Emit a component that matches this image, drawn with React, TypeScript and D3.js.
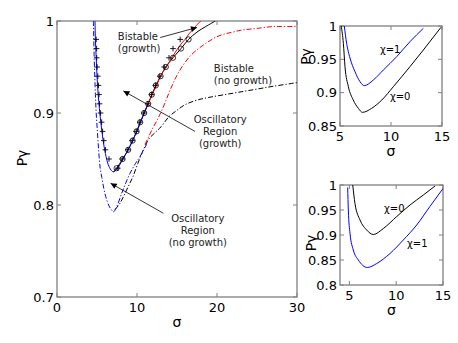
import React from 'react'
import * as d3 from 'd3'

const W = 458
const H = 343
const FONT = 'DejaVu Sans'
const FRAME = '#808080'
const BLUE = '#0000ff'
const RED = '#ff0000'

// ---- main panel: stability regions in (sigma, P_gamma) ----
const mainSigmaTicks = [0, 10, 20, 30]
const mainPTicks = [0.7, 0.8, 0.9, 1]

// solid blue: oscillatory boundary (growth)
const blueSolidSigma = [4.75, 4.8, 4.9, 5.0, 5.15, 5.3, 5.5, 5.75, 6.05, 6.4, 6.75, 7.05, 7.5, 8.0, 8.5, 9.0, 9.5, 10.0, 10.45, 10.9, 11.4]
const blueSolidP = [1.0, 0.98, 0.96, 0.94, 0.92, 0.905, 0.888, 0.871, 0.856, 0.844, 0.838, 0.836, 0.839, 0.846, 0.854, 0.862, 0.871, 0.88, 0.89, 0.9, 0.91]

// solid black: bistable boundary (growth)
const blackSolidSigma = [7.05, 7.45, 8.2, 8.9, 9.45, 9.95, 10.4, 10.9, 11.4, 11.85, 12.35, 12.95, 13.6, 14.5, 15.5, 16.45, 17.5, 18.6, 19.8]
const blackSolidP = [0.836, 0.84, 0.85, 0.86, 0.87, 0.88, 0.89, 0.9, 0.91, 0.92, 0.93, 0.94, 0.95, 0.96, 0.97, 0.98, 0.988, 0.994, 1.0]

// solid red: second bistable branch (growth)
const redSolidSigma = [11.0, 11.5, 12.0, 12.5, 13.0, 13.5, 14.0, 14.5, 15.0, 15.5, 16.0, 16.5, 17.0, 17.5, 18.0]
const redSolidP = [0.903, 0.912, 0.922, 0.931, 0.941, 0.948, 0.955, 0.962, 0.969, 0.975, 0.98, 0.986, 0.991, 0.996, 1.0]

// dash-dot blue: oscillatory boundary (no growth)
const blueDashSigma = [4.55, 4.65, 4.8, 4.9, 5.05, 5.2, 5.4, 5.6, 5.85, 6.1, 6.5, 6.8, 7.05, 7.45, 8.1, 8.6, 9.1, 9.8, 10.4, 11.2]
const blueDashP = [1.0, 0.96, 0.92, 0.9, 0.88, 0.86, 0.84, 0.83, 0.818, 0.809, 0.799, 0.795, 0.7925, 0.798, 0.813, 0.824, 0.834, 0.845, 0.853, 0.866]

// dash-dot black: bistable boundary (no growth)
const blackDashSigma = [7.25, 7.8, 8.3, 8.9, 9.5, 10.1, 10.8, 11.5, 12.3, 13.0, 14.0, 15.0, 16.0, 17.5, 19.0, 21.0, 23.0, 25.0, 27.0, 30.0]
const blackDashP = [0.795, 0.801, 0.809, 0.82, 0.831, 0.845, 0.86, 0.872, 0.879, 0.885, 0.896, 0.903, 0.909, 0.914, 0.917, 0.92, 0.923, 0.926, 0.929, 0.933]

// dash-dot red: second bistable branch (no growth)
const redDashSigma = [11.0, 11.5, 12.0, 12.5, 13.0, 13.5, 14.0, 14.5, 15.0, 16.0, 17.0, 18.0, 19.0, 20.0, 21.0, 22.0, 23.0, 24.0, 25.0, 26.0, 27.0, 28.0, 30.0]
const redDashP = [0.866, 0.875, 0.884, 0.892, 0.901, 0.911, 0.922, 0.932, 0.941, 0.955, 0.965, 0.972, 0.978, 0.983, 0.986, 0.988, 0.99, 0.991, 0.992, 0.993, 0.994, 0.994, 0.994]

// simulation markers
const circleSigma = [7.45, 8.2, 8.9, 9.45, 9.95, 10.4, 10.9, 11.4, 11.85, 12.35, 12.95, 13.6, 14.5, 15.5, 16.45]
const circleP = [0.84, 0.85, 0.86, 0.87, 0.88, 0.89, 0.9, 0.91, 0.92, 0.93, 0.94, 0.95, 0.96, 0.97, 0.98]
const plusLeftSigma = [4.9, 4.95, 4.97, 5.02, 5.1, 5.18, 5.25, 5.32, 5.45, 5.58, 5.7, 5.85, 6.05, 6.5]
const plusLeftP = [0.98, 0.97, 0.96, 0.95, 0.94, 0.93, 0.92, 0.91, 0.9, 0.89, 0.88, 0.87, 0.86, 0.85]
const plusRightSigma = [7.6, 8.15, 8.85, 9.4, 9.9, 10.35, 10.85, 11.35, 11.8, 12.3, 12.85, 13.4, 14.0, 14.5, 15.4]
const plusRightP = [0.84, 0.85, 0.86, 0.87, 0.88, 0.89, 0.9, 0.91, 0.92, 0.93, 0.94, 0.95, 0.96, 0.97, 0.98]

// annotations (data coords)
const notes = [
  { lines: ['Bistable', '(growth)'], sigma: 7.6, p: 0.979, anchor: 'start', from: [12.9, 0.982], to: [17.5, 0.993] },
  { lines: ['Bistable', '(no growth)'], sigma: 19.6, p: 0.945, anchor: 'start', from: null, to: null },
  { lines: ['Oscillatory', 'Region', '(growth)'], sigma: 20.4, p: 0.889, anchor: 'middle', from: [17.25, 0.88], to: [8.3, 0.924] },
  { lines: ['Oscillatory', 'Region', '(no growth)'], sigma: 17.6, p: 0.781, anchor: 'middle', from: [13.3, 0.791], to: [6.7, 0.8236] }
]

// ---- top inset ----
const topSigmaTicks = [5, 10, 15]
const topPTicks = [0.85, 0.9, 0.95, 1]
const topChi1Sigma = [5.42, 5.65, 5.98, 6.47, 6.96, 7.38, 8.27, 9.25, 10.56, 11.86, 13.17]
const topChi1P = [1.0, 0.974, 0.952, 0.9315, 0.9165, 0.9105, 0.919, 0.934, 0.954, 0.9765, 0.9965]
const topChi0Sigma = [5.12, 5.33, 5.49, 5.82, 6.3, 6.8, 7.2, 8.1, 9.1, 10.23, 11.86, 13.17, 14.9]
const topChi0P = [1.0, 0.974, 0.939, 0.909, 0.889, 0.8765, 0.8705, 0.8765, 0.889, 0.909, 0.939, 0.964, 0.998]

// ---- bottom inset ----
const botSigmaTicks = [5, 10, 15]
const botPTicks = [0.8, 0.85, 0.9, 0.95, 1]
const botChi0Sigma = [5.36, 5.6, 6.14, 6.85, 7.56, 8.63, 10.06, 11.48, 12.9, 14.15]
const botChi0P = [1.0, 0.963, 0.93, 0.91, 0.901, 0.913, 0.937, 0.96, 0.98, 0.998]
const botChi1Sigma = [4.82, 4.89, 5.07, 5.42, 5.96, 6.92, 7.92, 9.34, 10.76, 12.19, 13.6, 15.0]
const botChi1P = [0.995, 0.95, 0.903, 0.87, 0.85, 0.835, 0.843, 0.863, 0.89, 0.92, 0.957, 0.993]

type Scale = d3.ScaleLinear<number, number>

const path = (sx: Scale, sy: Scale, xs: number[], ys: number[], curve: d3.CurveFactory = d3.curveCatmullRom) =>
  d3.line<[number, number]>().x(d => sx(d[0])).y(d => sy(d[1])).curve(curve)(d3.zip(xs, ys) as [number, number][]) || ''

const Frame = ({ id, sx, sy, xTicks, yTicks, yLabel }: {
  id: string, sx: Scale, sy: Scale, xTicks: number[], yTicks: number[], yLabel: [number, number]
}) => {
  const [x0, x1] = sx.range()
  const [y0, y1] = sy.range()
  const t = 4
  return (
    <g>
      <clipPath id={id}><rect x={x0} y={y1} width={x1 - x0} height={y0 - y1} /></clipPath>
      {xTicks.map(v => (
        <g key={'x' + v}>
          <line x1={sx(v)} x2={sx(v)} y1={y0} y2={y0 - t} stroke={FRAME} />
          <line x1={sx(v)} x2={sx(v)} y1={y1} y2={y1 + t} stroke={FRAME} />
          <text x={sx(v)} y={y0 + 15} textAnchor="middle" fontSize={13}>{String(v)}</text>
        </g>
      ))}
      {yTicks.map(v => (
        <g key={'y' + v}>
          <line x1={x0} x2={x0 + t} y1={sy(v)} y2={sy(v)} stroke={FRAME} />
          <line x1={x1} x2={x1 - t} y1={sy(v)} y2={sy(v)} stroke={FRAME} />
          <text x={x0 - 3} y={sy(v)} dy="0.36em" textAnchor="end" fontSize={13}>{String(v)}</text>
        </g>
      ))}
      <rect x={x0} y={y1} width={x1 - x0} height={y0 - y1} fill="none" stroke={FRAME} strokeWidth={1.3} />
      <text x={(x0 + x1) / 2} y={y0 + 30} textAnchor="middle" fontSize={14}>σ</text>
      <text transform={`translate(${yLabel[0]},${yLabel[1]}) rotate(-90)`} dy="0.36em" textAnchor="middle" fontSize={14}>Pγ</text>
    </g>
  )
}

const Plus = ({ x, y }: { x: number, y: number }) => (
  <path d={`M${x - 2.8},${y}H${x + 2.8}M${x},${y - 2.8}V${y + 2.8}`} stroke="#000" strokeWidth={0.9} />
)

export default function App() {
  // main
  const mx = d3.scaleLinear().domain([0, 30]).range([57, 297])
  const my = d3.scaleLinear().domain([0.7, 1]).range([297, 21])
  // insets
  const tx = d3.scaleLinear().domain([5, 15]).range([340, 442])
  const ty = d3.scaleLinear().domain([0.85, 1]).range([126, 26])
  const bx = d3.scaleLinear().domain([4, 15]).range([340, 443])
  const by = d3.scaleLinear().domain([0.8, 1]).range([285, 185])

  const dash = '5,2,1.2,2'

  return (
    <svg width={W} height={H} style={{ position: 'absolute', left: 0, top: 0, background: '#fff' }}
      fontFamily={FONT} fill="#000">
      <defs>
        <marker id="ah" viewBox="0 0 10 10" refX="10" refY="5" markerWidth="7" markerHeight="6"
          markerUnits="userSpaceOnUse" orient="auto">
          <path d="M0,0L10,5L0,10Z" fill="#000" />
        </marker>
      </defs>

      {/* main panel */}
      <Frame id="cm" sx={mx} sy={my} xTicks={mainSigmaTicks} yTicks={mainPTicks} yLabel={[21.5, 158]} />
      <g clipPath="url(#cm)" fill="none" strokeWidth={1}>
        <path d={path(mx, my, blackDashSigma, blackDashP)} stroke="#000" strokeDasharray={dash} />
        <path d={path(mx, my, redDashSigma, redDashP)} stroke={RED} strokeDasharray={dash} />
        <path d={path(mx, my, blueDashSigma, blueDashP)} stroke={BLUE} strokeDasharray={dash} />
        <path d={path(mx, my, blackSolidSigma, blackSolidP)} stroke="#000" />
        <path d={path(mx, my, redSolidSigma, redSolidP)} stroke={RED} />
        <path d={path(mx, my, blueSolidSigma, blueSolidP)} stroke={BLUE} />
        {circleSigma.map((s, i) => (
          <circle key={'c' + i} cx={mx(s)} cy={my(circleP[i])} r={2.6} stroke="#000" strokeWidth={0.8} />
        ))}
        {plusLeftSigma.map((s, i) => <Plus key={'pl' + i} x={mx(s)} y={my(plusLeftP[i])} />)}
        {plusRightSigma.map((s, i) => <Plus key={'pr' + i} x={mx(s)} y={my(plusRightP[i])} />)}
      </g>
      {notes.map((n, k) => (
        <g key={'n' + k}>
          {n.lines.map((l, j) => (
            <text key={j} x={mx(n.sigma)} y={my(n.p) + j * 12} textAnchor={n.anchor} fontSize={10} fill="#222">{l}</text>
          ))}
          {n.from && n.to && (
            <line x1={mx(n.from[0])} y1={my(n.from[1])} x2={mx(n.to[0])} y2={my(n.to[1])}
              stroke="#000" strokeWidth={0.8} markerEnd="url(#ah)" />
          )}
        </g>
      ))}

      {/* top inset */}
      <Frame id="ct" sx={tx} sy={ty} xTicks={topSigmaTicks} yTicks={topPTicks} yLabel={[305.5, 56.5]} />
      <g clipPath="url(#ct)" fill="none" strokeWidth={1}>
        <path d={path(tx, ty, topChi0Sigma, topChi0P, d3.curveMonotoneX)} stroke="#000" />
        <path d={path(tx, ty, topChi1Sigma, topChi1P, d3.curveMonotoneX)} stroke={BLUE} />
      </g>
      <text x={tx(8.92)} y={ty(0.9595)} fontSize={10}>χ=1</text>
      <text x={tx(9.9)} y={ty(0.889)} fontSize={10}>χ=0</text>

      {/* bottom inset */}
      <Frame id="cb" sx={bx} sy={by} xTicks={botSigmaTicks} yTicks={botPTicks} yLabel={[311, 243]} />
      <g clipPath="url(#cb)" fill="none" strokeWidth={1}>
        <path d={path(bx, by, botChi0Sigma, botChi0P, d3.curveMonotoneX)} stroke="#000" />
        <path d={path(bx, by, botChi1Sigma, botChi1P, d3.curveMonotoneX)} stroke={BLUE} />
      </g>
      <text x={bx(8.7)} y={by(0.946)} fontSize={10}>χ=0</text>
      <text x={bx(11.16)} y={by(0.876)} fontSize={10}>χ=1</text>
    </svg>
  )
}
